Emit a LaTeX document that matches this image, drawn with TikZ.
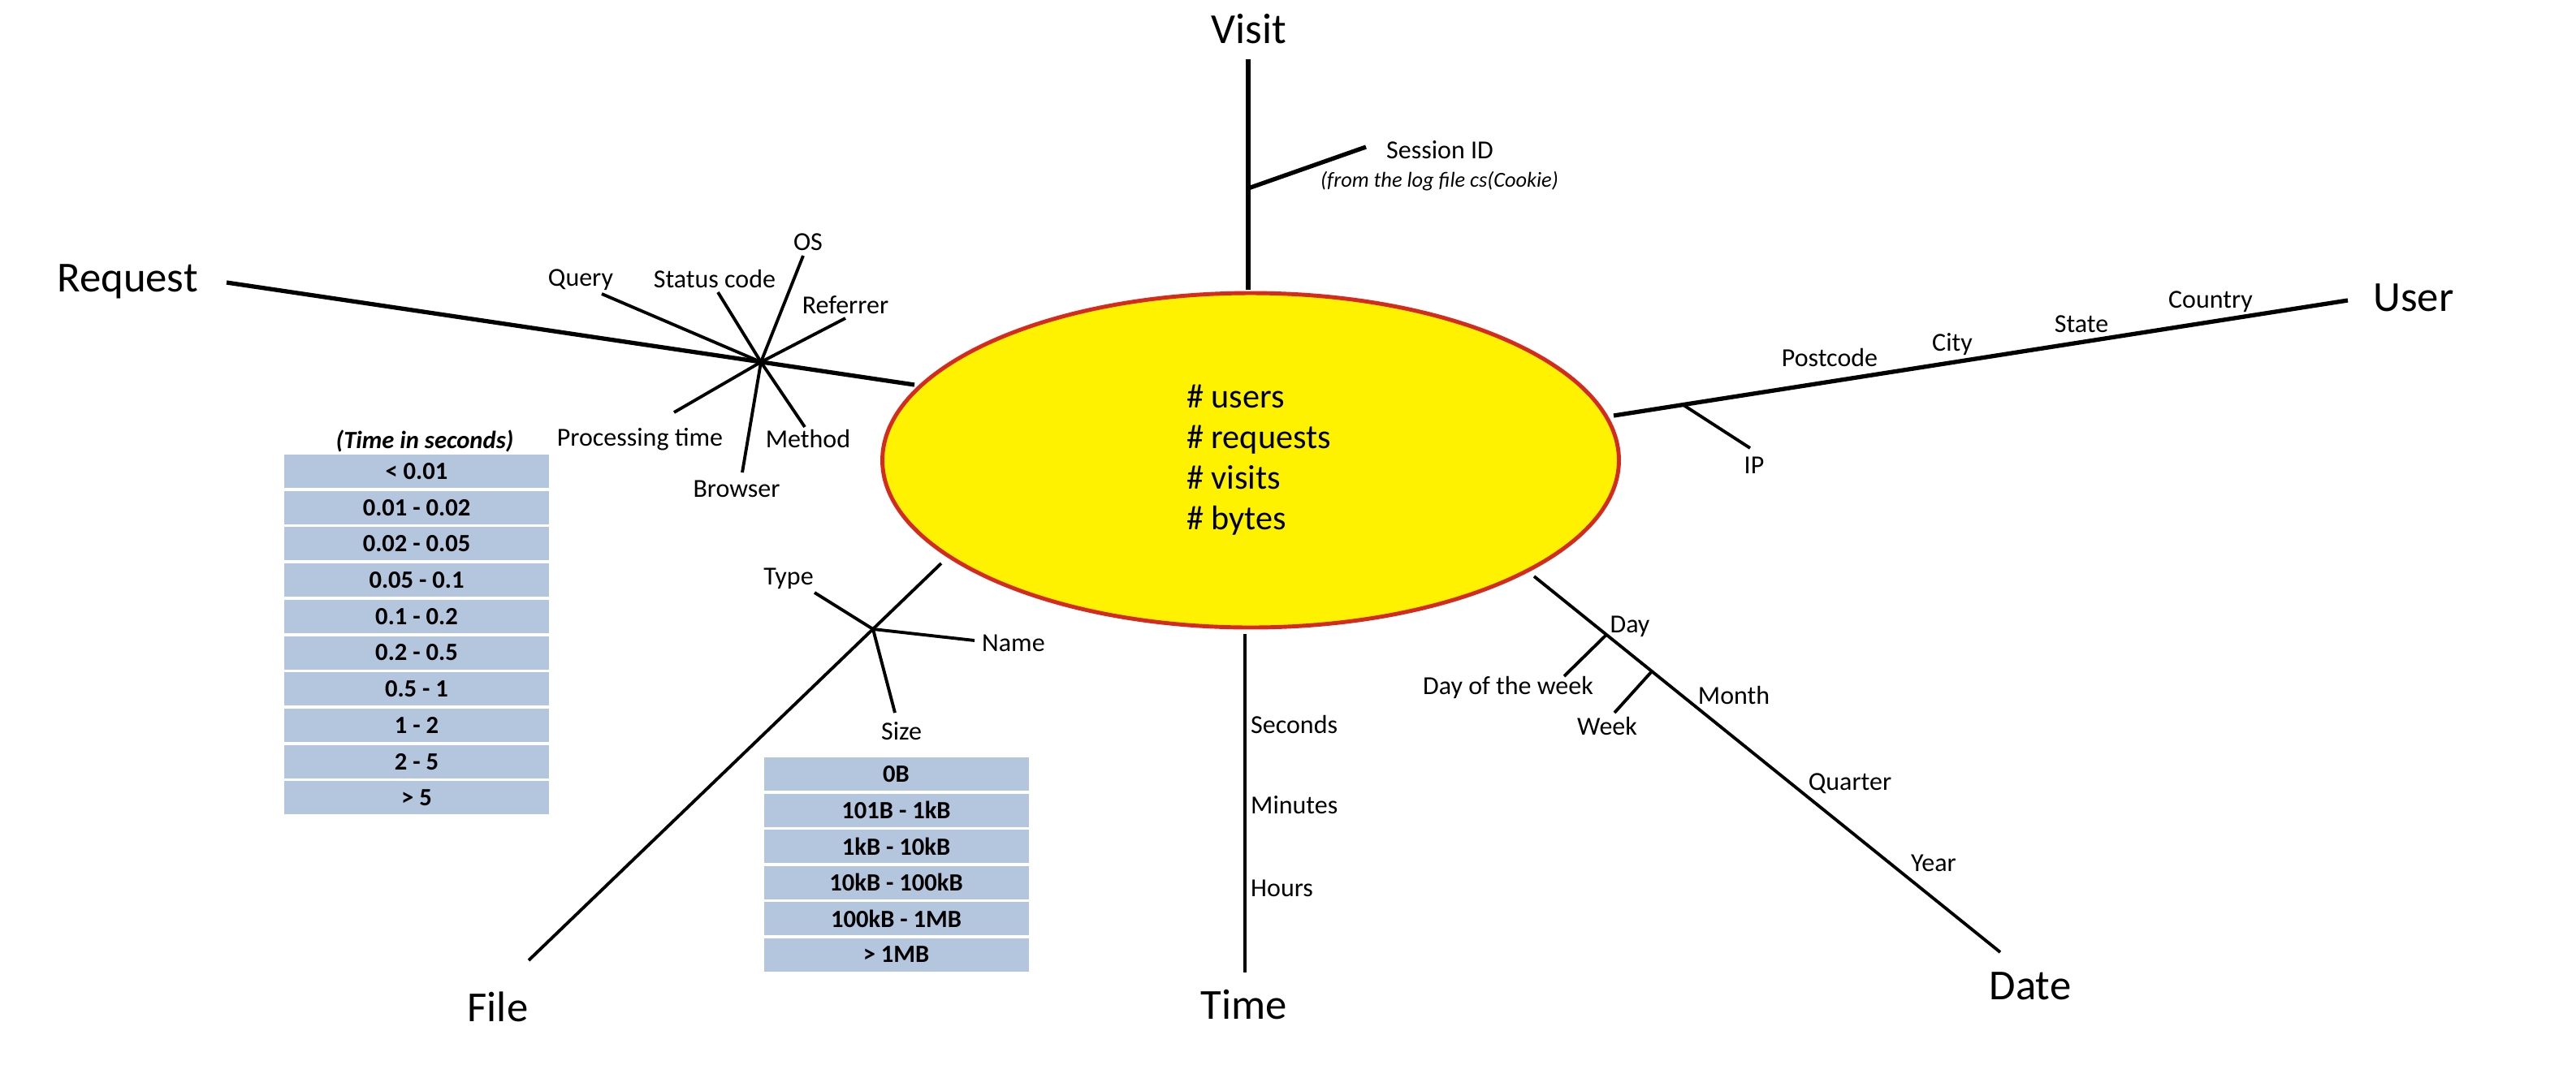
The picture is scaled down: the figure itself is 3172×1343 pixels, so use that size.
\documentclass[tikz,border=0pt]{standalone}
\usepackage{fontspec}
\setmainfont{Carlito}
\usetikzlibrary{shapes.geometric}
\definecolor{factfill}{HTML}{FFF200}
\definecolor{factline}{HTML}{D52A1E}
\definecolor{binfill}{HTML}{B4C6DE}

\begin{document}
\begin{tikzpicture}[x=0.1mm, y=-0.1mm,
		dim/.style={font=\fontsize{15}{18}\selectfont, inner sep=1pt},
		attr/.style={font=\fontsize{9.1}{11}\selectfont, inner sep=1pt},
		bin/.style={fill=binfill, minimum width=32.6mm, minimum height=4.1mm, inner sep=0pt, font=\fontsize{8.7}{10}\selectfont\bfseries},
		axis/.style={line width=1.5pt},
		branch/.style={line width=1.1pt}]
	\useasboundingbox (0,0) rectangle (3172,1343);
	% fact table
	\node[ellipse, draw=factline, line width=1.4pt, fill=factfill, minimum width=90.7mm, minimum height=41.2mm] (fact) at (1540,567) {};
	\node[align=left, font=\fontsize{12}{14.2}\selectfont] (measures) at (1550,567) {\# users\\ \# requests\\ \# visits\\ \# bytes};
	% dimensions
	\node[dim] (visit) at (1538,36) {Visit};
	\node[dim] (request) at (157,347) {Request};
	\node[dim] (user) at (2972,367) {User};
	\node[dim] (file) at (613,1240) {File};
	\node[dim] (time) at (1532,1238) {Time};
	\node[dim] (date) at (2500,1215) {Date};
	% visit
	\coordinate (visitA) at (1537,73);
	\coordinate (visitB) at (1537,357);
	\coordinate (sessJ) at (1537,232);
	\coordinate (sessE) at (1682,181);
	\draw[axis] (visitA) -- (visitB);
	\draw[axis] (sessJ) -- (sessE);
	\node[attr, anchor=west] (session) at (1703,185) {Session ID};
	\node[font=\fontsize{7.5}{9}\selectfont\itshape, anchor=west, inner sep=1pt] (cookie) at (1622,223) {(from the log file cs(Cookie)};
	% request
	\coordinate (reqA) at (279,348);
	\coordinate (reqB) at (1126,474);
	\coordinate (reqhub) at (937,446);
	\draw[axis] (reqA) -- (reqB);
	\foreach \n/\ex/\ey/\lx/\ly/\txt in {query/741/362/715/345/Query, status/884/360/880/343/Status code, os/989/315/995/298/OS, referrer/1041/392/1041/376/Referrer, proc/830/508/788/541/Processing time, browser/914/582/907/602/Browser, method/991/526/995/540/Method}{
		\coordinate (\n) at (\ex,\ey);
		\draw[branch] (reqhub) -- (\n);
		\node[attr] (\n-l) at (\lx,\ly) {\txt};
	}
	% user
	\coordinate (userA) at (1987,512);
	\coordinate (userB) at (2891,370);
	\coordinate (ipJ) at (2073,499);
	\coordinate (ipE) at (2155,552);
	\draw[axis] (userA) -- (userB);
	\draw[branch] (ipJ) -- (ipE);
	\node[attr] (ip) at (2160,573) {IP};
	\node[attr] (postcode) at (2253,440) {Postcode};
	\node[attr] (city) at (2404,424) {City};
	\node[attr] (state) at (2563,399) {State};
	\node[attr] (country) at (2722,372) {Country};
	% file
	\coordinate (fileA) at (651,1183);
	\coordinate (fileB) at (1159,694);
	\coordinate (filehub) at (1075,775);
	\coordinate (typeE) at (1003,730);
	\coordinate (nameE) at (1200,789);
	\coordinate (sizeE) at (1102,878);
	\draw[branch] (fileA) -- (fileB);
	\draw[branch] (filehub) -- (typeE);
	\draw[branch] (filehub) -- (nameE);
	\draw[branch] (filehub) -- (sizeE);
	\node[attr] (type) at (971,713) {Type};
	\node[attr, anchor=west] (name) at (1205,792) {Name};
	\node[attr] (size) at (1110,901) {Size};
	% time
	\coordinate (timeA) at (1533,781);
	\coordinate (timeB) at (1533,1198);
	\draw[branch] (timeA) -- (timeB);
	\node[attr, anchor=west] (seconds) at (1536,892) {Seconds};
	\node[attr, anchor=west] (minutes) at (1536,992) {Minutes};
	\node[attr, anchor=west] (hours) at (1536,1094) {Hours};
	% date
	\coordinate (dateA) at (1889,710);
	\coordinate (dateB) at (2463,1173);
	\coordinate (dayJ) at (1978,782);
	\coordinate (dowE) at (1926,833);
	\coordinate (weekJ) at (2034,827);
	\coordinate (weekE) at (1988,878);
	\draw[branch] (dateA) -- (dateB);
	\draw[branch] (dayJ) -- (dowE);
	\draw[branch] (weekJ) -- (weekE);
	\node[attr] (day) at (2007,772) {Day};
	\node[attr] (dow) at (1857,847) {Day of the week};
	\node[attr] (week) at (1979,894) {Week};
	\node[attr] (month) at (2135,856) {Month};
	\node[attr] (quarter) at (2278,965) {Quarter};
	\node[attr] (year) at (2381,1063) {Year};
	% bins
	\node[font=\fontsize{8.7}{10}\selectfont\bfseries\itshape] (timetitle) at (523,543) {(Time in seconds)};
	\foreach \t [count=\i from 0] in {< 0.01, 0.01 - 0.02, 0.02 - 0.05, 0.05 - 0.1, 0.1 - 0.2, 0.2 - 0.5, 0.5 - 1, 1 - 2, 2 - 5, > 5}
		\node[bin] (tbin\i) at (513,580.5+44.7*\i) {\t};
	\foreach \t [count=\i from 0] in {0B, 101B - 1kB, 1kB - 10kB, 10kB - 100kB, 100kB - 1MB, > 1MB}
		\node[bin] (sbin\i) at (1103.5,953.5+44.5*\i) {\t};
\end{tikzpicture}
\end{document}
